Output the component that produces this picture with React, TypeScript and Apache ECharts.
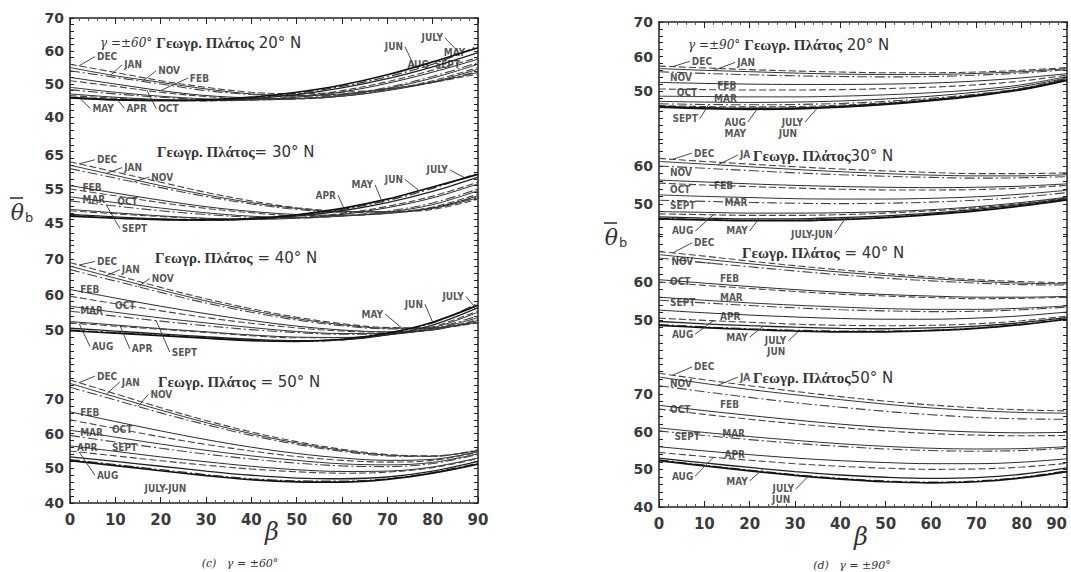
import React, { useEffect, useRef } from "react";
import * as echarts from "echarts";

// β values (x axis)
const BETA = [0, 10, 20, 30, 40, 50, 60, 70, 80, 90];
const X_TICK_LABELS = [0, 10, 20, 30, 40, 50, 60, 70, 80, 90];
// month order used in every table below
const MONTHS = ["DEC", "JAN", "NOV", "FEB", "OCT", "MAR", "SEPT", "APR", "AUG", "MAY", "JULY", "JUN"];

// ---------- γ = ±60° ----------
const G60_N20 = [
  [56, 53.5, 51, 49, 47.5, 47, 47.5, 48.5, 50.5, 53],
  [55, 52.5, 50.5, 48.5, 47, 46.5, 47, 48.5, 50.5, 53.5],
  [54, 52, 50, 48, 46.8, 46.3, 46.8, 48.3, 50.5, 53.8],
  [52, 50, 48, 46.5, 45.8, 45.6, 46.3, 48, 50.6, 54.5],
  [51, 49.3, 47.5, 46.2, 45.5, 45.5, 46.3, 48.2, 51, 55],
  [49, 47.5, 46.3, 45.5, 45.2, 45.5, 46.6, 48.7, 51.8, 56],
  [48.3, 47, 46, 45.3, 45.2, 45.6, 46.8, 49, 52.3, 56.5],
  [47, 46, 45.3, 45, 45.2, 46, 47.6, 50.2, 53.6, 57.5],
  [46.5, 45.7, 45.1, 44.9, 45.2, 46.2, 48, 50.7, 54.2, 58],
  [46, 45.3, 45, 45, 45.6, 46.8, 48.8, 51.6, 55.2, 59.5],
  [45.8, 45.2, 45, 45.1, 45.8, 47.2, 49.3, 52.2, 56, 61.5],
  [45.8, 45.2, 45, 45.2, 46, 47.5, 49.7, 52.8, 56.7, 61],
];
const G60_N30 = [
  [63, 60, 57, 54, 51.5, 49.5, 48.5, 48.3, 49, 52],
  [62, 59, 56, 53.3, 51, 49.3, 48.3, 48.3, 49.3, 52.4],
  [61, 58.2, 55.4, 52.8, 50.6, 49, 48.2, 48.3, 49.5, 52.7],
  [56, 53.8, 51.7, 49.8, 48.4, 47.5, 47.3, 47.8, 49.4, 53],
  [55, 53, 51, 49.3, 48, 47.2, 47.2, 47.9, 49.7, 53.5],
  [52.7, 51, 49.4, 48, 47, 46.6, 47, 48.2, 50.4, 54.5],
  [51.5, 50, 48.6, 47.5, 46.7, 46.5, 47.1, 48.5, 50.9, 55],
  [49, 48, 47.1, 46.4, 46.1, 46.4, 47.5, 49.5, 52.4, 56.5],
  [48.6, 47.7, 46.9, 46.3, 46.1, 46.6, 47.8, 49.9, 52.9, 57],
  [47.5, 46.8, 46.2, 45.9, 46.1, 47, 48.6, 51, 54.3, 58.5],
  [47.2, 46.5, 46, 45.8, 46.2, 47.2, 49, 51.6, 55.2, 59.7],
  [47, 46.4, 46, 45.9, 46.3, 47.4, 49.3, 52, 55.6, 59.3],
];
const G60_N40 = [
  [69, 65.5, 62, 58.8, 56, 53.6, 51.8, 50.7, 50.6, 52],
  [68, 64.6, 61.3, 58.2, 55.5, 53.2, 51.5, 50.5, 50.6, 52.2],
  [67, 63.8, 60.6, 57.6, 55, 52.8, 51.2, 50.3, 50.5, 52.4],
  [61.4, 59, 56.7, 54.6, 52.7, 51.1, 50, 49.5, 50, 52.7],
  [59.5, 57.4, 55.4, 53.5, 51.9, 50.6, 49.7, 49.4, 50, 53],
  [56.7, 55, 53.4, 52, 50.7, 49.6, 49, 49, 50.2, 53.5],
  [55.3, 53.9, 52.5, 51.2, 50.1, 49.3, 48.8, 49, 50.4, 54],
  [52.4, 51.4, 50.4, 49.5, 48.6, 48, 47.9, 48.6, 50.6, 55],
  [52, 51.1, 50.2, 49.3, 48.4, 47.8, 47.8, 48.7, 50.9, 55.4],
  [50.5, 49.7, 48.9, 48.1, 47.4, 47, 47.2, 48.6, 51.4, 56.3],
  [50, 49.3, 48.6, 47.8, 47.1, 46.8, 47.2, 48.9, 52, 57.5],
  [49.8, 49.1, 48.4, 47.7, 47, 46.8, 47.4, 49.1, 52.2, 57],
];
const G60_N50 = [
  [75.5, 71.5, 67.5, 63.8, 60.5, 57.7, 55.5, 54, 53.6, 55],
  [74.5, 70.6, 66.8, 63.2, 60, 57.3, 55.2, 53.8, 53.5, 55.2],
  [73.4, 69.7, 66, 62.6, 59.5, 56.9, 54.9, 53.6, 53.4, 55.4],
  [66.3, 63.5, 60.8, 58.3, 56.1, 54.3, 53, 52.3, 52.6, 54.8],
  [64, 61.5, 59.1, 56.9, 55, 53.4, 52.3, 51.8, 52.3, 54.6],
  [61, 59, 57, 55.2, 53.6, 52.3, 51.3, 51, 51.7, 54.2],
  [59.5, 57.6, 55.8, 54.1, 52.7, 51.5, 50.7, 50.5, 51.4, 54],
  [56.5, 54.9, 53.3, 51.9, 50.6, 49.6, 49.1, 49.2, 50.4, 53],
  [55, 53.6, 52.2, 50.9, 49.8, 49, 48.6, 48.9, 50.2, 52.8],
  [53.3, 52, 50.6, 49.2, 48, 47.2, 47, 47.5, 49.2, 52],
  [52.5, 51.1, 49.6, 48.2, 47, 46.4, 46.3, 47, 48.8, 51.5],
  [52.2, 50.8, 49.3, 47.9, 46.7, 46.1, 46, 46.8, 48.6, 51.2],
];

// ---------- γ = ±90° ----------
const G90_N20 = [
  [57.2, 56.7, 56.2, 55.8, 55.5, 55.3, 55.3, 55.5, 56, 56.8],
  [56.5, 56, 55.6, 55.2, 54.9, 54.8, 54.8, 55.1, 55.6, 56.5],
  [55.6, 55.1, 54.7, 54.4, 54.2, 54.1, 54.2, 54.6, 55.2, 56.2],
  [52.5, 52.2, 52, 51.9, 51.9, 52, 52.3, 52.9, 53.8, 55],
  [50.6, 50.4, 50.3, 50.3, 50.4, 50.7, 51.1, 51.8, 52.9, 54.6],
  [48.5, 48.4, 48.3, 48.3, 48.5, 48.9, 49.5, 50.4, 51.8, 54.2],
  [46.3, 46.1, 46, 46.1, 46.4, 47, 47.9, 49.1, 50.8, 53.6],
  [47, 46.8, 46.7, 46.8, 47.1, 47.7, 48.5, 49.7, 51.3, 53.8],
  [45.8, 45.5, 45.4, 45.5, 45.9, 46.6, 47.6, 48.9, 50.7, 53.4],
  [45.6, 45.2, 45, 45.1, 45.6, 46.3, 47.4, 48.8, 50.6, 53.3],
  [45.4, 45, 44.8, 44.9, 45.4, 46.2, 47.3, 48.7, 50.5, 53.2],
  [45.3, 44.9, 44.7, 44.8, 45.3, 46.1, 47.2, 48.6, 50.4, 53.1],
];
const G90_N30 = [
  [62, 61.2, 60.5, 59.8, 59.2, 58.7, 58.3, 58, 58, 58.2],
  [61.2, 60.5, 59.8, 59.1, 58.5, 58, 57.6, 57.4, 57.4, 57.7],
  [60, 59.4, 58.8, 58.2, 57.7, 57.3, 57, 56.8, 56.9, 57.2],
  [56.3, 55.8, 55.3, 54.9, 54.6, 54.4, 54.3, 54.4, 54.7, 55.3],
  [55.5, 55, 54.6, 54.2, 53.9, 53.7, 53.7, 53.8, 54.2, 54.9],
  [52.4, 52, 51.7, 51.4, 51.3, 51.3, 51.5, 51.9, 52.6, 53.6],
  [51, 50.7, 50.4, 50.2, 50.1, 50.2, 50.5, 51, 51.8, 53],
  [48, 47.8, 47.6, 47.6, 47.7, 48, 48.5, 49.3, 50.4, 51.8],
  [47.4, 47.2, 47, 47, 47.2, 47.6, 48.2, 49, 50.2, 51.6],
  [46.6, 46.3, 46.1, 46.1, 46.4, 46.9, 47.6, 48.6, 49.9, 51.4],
  [46.2, 45.9, 45.7, 45.7, 46, 46.5, 47.3, 48.3, 49.6, 51.2],
  [46.1, 45.8, 45.6, 45.6, 45.9, 46.4, 47.2, 48.2, 49.5, 51.1],
];
const G90_N40 = [
  [68, 66.8, 65.5, 64.3, 63.2, 62.2, 61.3, 60.6, 60.1, 59.8],
  [67.2, 66, 64.8, 63.7, 62.6, 61.7, 60.9, 60.2, 59.7, 59.5],
  [66.3, 65.1, 64, 62.9, 61.9, 61, 60.3, 59.7, 59.3, 59.2],
  [60.6, 59.7, 58.8, 58, 57.3, 56.7, 56.3, 56, 56, 56.2],
  [60, 59.1, 58.3, 57.5, 56.8, 56.3, 55.9, 55.6, 55.7, 56],
  [56, 55.2, 54.5, 53.9, 53.4, 53, 52.8, 52.8, 53.1, 53.7],
  [55.2, 54.5, 53.8, 53.2, 52.7, 52.4, 52.2, 52.3, 52.7, 53.4],
  [52.6, 51.9, 51.3, 50.8, 50.4, 50.2, 50.2, 50.5, 51.1, 52.1],
  [50.5, 49.9, 49.4, 48.9, 48.6, 48.5, 48.6, 49, 49.8, 51],
  [49.6, 49, 48.5, 48.1, 47.8, 47.7, 47.9, 48.4, 49.3, 50.6],
  [48.8, 48.2, 47.7, 47.3, 47.1, 47.1, 47.3, 47.9, 48.9, 50.3],
  [48.6, 48, 47.5, 47.1, 46.9, 46.9, 47.2, 47.8, 48.8, 50.2],
];
const G90_N50 = [
  [75.5, 73.8, 72.2, 70.7, 69.3, 68.1, 67.1, 66.3, 65.8, 65.5],
  [74.5, 72.8, 71.2, 69.8, 68.5, 67.3, 66.3, 65.6, 65.1, 64.9],
  [72.2, 70.6, 69.1, 67.7, 66.5, 65.4, 64.5, 63.8, 63.4, 63.3],
  [67, 65.6, 64.3, 63.1, 62, 61.1, 60.4, 59.9, 59.7, 59.8],
  [66, 64.6, 63.3, 62.1, 61.1, 60.2, 59.5, 59.1, 58.9, 59],
  [61, 59.8, 58.7, 57.7, 56.8, 56.1, 55.6, 55.4, 55.5, 56],
  [60.2, 59, 57.9, 56.9, 56.1, 55.4, 55, 54.8, 55, 55.6],
  [56, 54.9, 53.9, 53, 52.3, 51.8, 51.5, 51.5, 51.9, 52.8],
  [54.5, 53.4, 52.4, 51.5, 50.8, 50.3, 50, 50.1, 50.6, 51.6],
  [53, 51.7, 50.5, 49.4, 48.5, 47.9, 47.6, 47.8, 48.7, 50.4],
  [52.5, 51.1, 49.8, 48.6, 47.6, 46.9, 46.6, 46.9, 47.9, 49.6],
  [52.3, 50.9, 49.6, 48.4, 47.4, 46.7, 46.4, 46.7, 47.7, 49.4],
];

// month labels: [text, β, θ, curve month for leader | null, leader β | null]
type Note = [string, number, number, string | null, number | null];
const G60_N20_NOTES: Note[] = [
  ["DEC", 5.5, 58.3, "DEC", 2], ["JAN", 11.5, 55.8, "JAN", 9], ["NOV", 19, 54, "NOV", 16],
  ["FEB", 26, 51.8, "FEB", 20], ["MAY", 4.5, 42.6, "MAY", 2], ["APR", 12, 42.6, "APR", 10],
  ["OCT", 19, 42.6, "OCT", 17], ["JUN", 73.9, 61.3, "JUN", 76], ["JULY", 82.7, 64, "JULY", 86],
  ["MAY", 82, 59.6, null, null], ["AUG", 74, 56, null, null], ["SEPT", 80, 56, null, null],
];
const G60_N30_NOTES: Note[] = [
  ["DEC", 5.5, 63.6, "DEC", 2], ["JAN", 11.5, 61.3, "JAN", 8], ["NOV", 17.5, 58.5, "NOV", 14],
  ["FEB", 2.3, 55.3, null, null], ["OCT", 10, 51.3, null, null], ["MAR", 2.3, 52, null, null],
  ["SEPT", 11, 43.4, "SEPT", 8], ["APR", 59.1, 53.2, "APR", 61], ["MAY", 67.3, 56.2, "MAY", 69],
  ["JUN", 73.9, 57.8, "JUN", 77], ["JULY", 83.8, 60.6, "JULY", 87],
];
const G60_N40_NOTES: Note[] = [
  ["DEC", 5.5, 69.3, "DEC", 2], ["JAN", 11, 67, "JAN", 8], ["NOV", 17.6, 64.5, "NOV", 15],
  ["FEB", 1.8, 61.5, null, null], ["OCT", 9.5, 57, null, null], ["MAR", 1.8, 55.6, null, null],
  ["AUG", 4.4, 45.4, "AUG", 2], ["APR", 13.2, 44.7, "APR", 11], ["SEPT", 22, 43.8, "SEPT", 19],
  ["MAY", 69.5, 54.5, "MAY", 74], ["JUN", 78.3, 57.3, "JUN", 80], ["JULY", 87.3, 59.5, "JULY", 89],
];
const G60_N50_NOTES: Note[] = [
  ["DEC", 5.5, 76.6, "DEC", 2], ["JAN", 11, 74.9, "JAN", 8], ["NOV", 17.3, 71.4, "NOV", 15],
  ["FEB", 1.8, 66.2, null, null], ["OCT", 8.8, 61.2, null, null], ["MAR", 1.8, 60.4, null, null],
  ["SEPT", 8.8, 56, null, null], ["APR", 1.1, 56, null, null], ["AUG", 5.5, 48, "AUG", 2],
  ["JULY-JUN", 16, 44.3, null, null],
];
const G90_N20_NOTES: Note[] = [
  ["DEC", 6.8, 58.6, "DEC", 3], ["JAN", 16.8, 58.3, "JAN", 12], ["NOV", 2, 54, null, null],
  ["FEB", 12.4, 51.5, null, null], ["OCT", 3.5, 49.5, null, null], ["MAR", 11.7, 47.7, null, null],
  ["SEPT", 9, 42, "SEPT", 11], ["AUG", 19.6, 41, "AUG", 22], ["MAY", 14, 37.8, null, null],
  ["JULY", 32.2, 41, "JULY", 35], ["JUN", 26, 37.8, null, null],
];
const G90_N30_NOTES: Note[] = [
  ["DEC", 7.3, 63.4, "DEC", 3], ["JA", 17.4, 62.9, "JAN", 13], ["NOV", 2, 58.2, null, null],
  ["OCT", 2, 53.7, null, null], ["FEB", 11.7, 54.9, null, null], ["SEPT", 2, 49.5, null, null],
  ["MAR", 14, 50.5, null, null], ["AUG", 8, 42.9, "AUG", 12], ["MAY", 20, 42.9, "MAY", 22],
  ["JULY-JUN", 38.8, 42.1, "JULY", 41],
];
const G90_N40_NOTES: Note[] = [
  ["DEC", 7.3, 70.3, "DEC", 3], ["NOV", 8, 65.3, "NOV", 12], ["OCT", 2, 60, null, null],
  ["FEB", 13, 61, null, null], ["SEPT", 2, 54.7, null, null], ["MAR", 13, 55.8, null, null],
  ["APR", 13, 51, null, null], ["AUG", 8, 46.3, "AUG", 12], ["MAY", 20, 45.5, "MAY", 23],
  ["JULY", 28.5, 44.5, "JULY", 31], ["JUN", 23.4, 41.6, null, null],
];
const G90_N50_NOTES: Note[] = [
  ["DEC", 7.3, 77.2, "DEC", 3], ["JA", 17.4, 74.5, "JAN", 13], ["NOV", 2, 72.9, null, null],
  ["OCT", 2, 65.8, null, null], ["FEB", 13, 67.1, null, null], ["SEPT", 3, 58.6, null, null],
  ["MAR", 13.5, 59.4, null, null], ["APR", 14, 54, null, null], ["AUG", 8, 48.2, "AUG", 12],
  ["MAY", 20, 46.9, "MAY", 23], ["JULY", 30.2, 44.8, "JULY", 33], ["JUN", 24.5, 42.1, null, null],
];

// y tick labels of each sub-panel
const G60_YLABELS = [[70, 60, 50, 40], [65, 55, 45], [70, 60, 50], [70, 60, 50, 40]];
const G90_YLABELS = [[70, 60, 50], [60, 50], [60, 50], [70, 60, 50, 40]];

// layout (pixels) and y-range of every sub-panel
const PANELS = [
  {
    x0: 70, x1: 478, alignLast: false,
    subs: [
      { top: 18, bottom: 135, min: 34.55, max: 70, labels: G60_YLABELS[0], data: G60_N20, notes: G60_N20_NOTES },
      { top: 135, bottom: 240, min: 40, max: 70.88, labels: G60_YLABELS[1], data: G60_N30, notes: G60_N30_NOTES },
      { top: 240, bottom: 362, min: 40.99, max: 75.35, labels: G60_YLABELS[2], data: G60_N40, notes: G60_N40_NOTES },
      { top: 362, bottom: 503, min: 40, max: 80.67, labels: G60_YLABELS[3], data: G60_N50, notes: G60_N50_NOTES },
    ],
  },
  {
    x0: 659, x1: 1067, alignLast: true,
    subs: [
      { top: 22, bottom: 140, min: 35.8, max: 70, labels: G90_YLABELS[0], data: G90_N20, notes: G90_N20_NOTES },
      { top: 140, bottom: 236, min: 41.58, max: 66.84, labels: G90_YLABELS[1], data: G90_N30, notes: G90_N30_NOTES },
      { top: 236, bottom: 358, min: 40, max: 72.1, labels: G90_YLABELS[2], data: G90_N40, notes: G90_N40_NOTES },
      { top: 358, bottom: 507, min: 40, max: 79.56, labels: G90_YLABELS[3], data: G90_N50, notes: G90_N50_NOTES },
    ],
  },
];

const MONTH_STYLE: any[] = [
  { color: "#444", width: 1.1, type: [7, 3] },
  { color: "#333", width: 1, type: "solid" },
  { color: "#444", width: 1.1, type: [10, 3, 2, 3] },
  { color: "#2a2a2a", width: 1, type: "solid" },
  { color: "#444", width: 1.1, type: [7, 3] },
  { color: "#333", width: 1, type: "solid" },
  { color: "#444", width: 1.1, type: [10, 3, 2, 3] },
  { color: "#2a2a2a", width: 1, type: "solid" },
  { color: "#444", width: 1.1, type: [7, 3] },
  { color: "#222", width: 1.3, type: "solid" },
  { color: "#333", width: 1.2, type: [10, 3, 2, 3] },
  { color: "#111", width: 1.7, type: "solid" },
];

function valAt(arr: number[], b: number) {
  const i = Math.min(BETA.length - 2, Math.floor(b / 10));
  const t = (b - BETA[i]) / (BETA[i + 1] - BETA[i]);
  return arr[i] * (1 - t) + arr[i + 1] * t;
}

const AX = "#222";
const TICK_FONT = { fontFamily: "DejaVu Sans", fontSize: 14, fontWeight: "bold" as const, color: "#3a3a3a" };

function buildOption() {
  const grid: any[] = [];
  const xAxis: any[] = [];
  const yAxis: any[] = [];
  const series: any[] = [];

  PANELS.forEach((p) => {
    p.subs.forEach((s, si) => {
      const gi = grid.length;
      grid.push({
        left: p.x0, width: p.x1 - p.x0, top: s.top, height: s.bottom - s.top,
        containLabel: false, outerBoundsMode: "none",
      });
      const isBottom = si === p.subs.length - 1;
      const xi = xAxis.length;
      xAxis.push({
        gridIndex: gi, type: "value", min: 0, max: 90, interval: 10, position: "bottom",
        show: isBottom,
        axisLine: { show: true, onZero: false, lineStyle: { color: AX, width: 1.5 } },
        axisTick: { show: true, inside: true, length: 6, lineStyle: { color: AX } },
        minorTick: { show: true, splitNumber: 5, length: 3, lineStyle: { color: "#555" } },
        axisLabel: {
          ...TICK_FONT, fontSize: 15, margin: 9, customValues: X_TICK_LABELS,
          alignMaxLabel: p.alignLast ? "right" : "center",
        },
        splitLine: { show: false },
      });
      if (si === 0) {
        xAxis.push({
          gridIndex: gi, type: "value", min: 0, max: 90, interval: 10, position: "top",
          axisLine: { show: true, onZero: false, lineStyle: { color: AX, width: 1.5 } },
          axisTick: { show: true, inside: true, length: 6, lineStyle: { color: AX } },
          minorTick: { show: true, splitNumber: 5, length: 3, lineStyle: { color: "#555" } },
          axisLabel: { show: false },
          splitLine: { show: false },
        });
      }
      const ticks: number[] = [];
      for (let v = Math.ceil(s.min / 2) * 2; v <= s.max; v += 2) ticks.push(v);
      const yi = yAxis.length;
      yAxis.push({
        gridIndex: gi, type: "value", min: s.min, max: s.max, position: "left",
        axisLine: { show: true, onZero: false, lineStyle: { color: AX, width: 1.5 } },
        axisTick: { show: true, inside: true, length: 4, customValues: ticks, lineStyle: { color: AX } },
        axisLabel: { ...TICK_FONT, margin: 6, customValues: s.labels },
        splitLine: { show: false },
      });
      yAxis.push({
        gridIndex: gi, type: "value", min: s.min, max: s.max, position: "right",
        axisLine: { show: true, onZero: false, lineStyle: { color: AX, width: 1.5 } },
        axisTick: { show: true, inside: true, length: 4, customValues: ticks, lineStyle: { color: AX } },
        axisLabel: { show: false },
        splitLine: { show: false },
      });

      s.data.forEach((vals, mi) => {
        series.push({
          type: "line", xAxisIndex: xi, yAxisIndex: yi, smooth: 0.35, symbol: "none",
          name: MONTHS[mi], silent: true,
          lineStyle: MONTH_STYLE[mi],
          data: BETA.map((b, i) => [b, vals[i]]),
        });
      });

      const leaders = s.notes
        .filter((n) => n[3] !== null && n[4] !== null)
        .map((n) => {
          const arr = s.data[MONTHS.indexOf(n[3] as string)];
          return [{ coord: [n[1], n[2]] }, { coord: [n[4], valAt(arr, n[4] as number)] }];
        });
      series.push({
        type: "scatter", xAxisIndex: xi, yAxisIndex: yi, symbolSize: 0, silent: true,
        data: s.notes.map((n) => ({
          name: n[0],
          value: [n[1], n[2]],
          label: { position: n[4] !== null && (n[4] as number) > n[1] ? "left" : "right" },
        })),
        label: {
          show: true, formatter: "{b}", distance: 2,
          fontFamily: "DejaVu Sans Condensed, DejaVu Sans", fontSize: 10, fontWeight: "bold", color: "#2a2a2a",
        },
        markLine: {
          silent: true, symbol: ["none", "none"], label: { show: false },
          lineStyle: { color: "#333", width: 0.9, type: "solid" },
          data: leaders,
        },
      });
    });
  });

  const rich = {
    g: { fontFamily: "DejaVu Serif", fontStyle: "italic", fontSize: 12, fill: "#333", padding: [0, 4, 0, 0] },
    s: { fontFamily: "Liberation Serif", fontWeight: "bold", fontSize: 15, fill: "#333" },
    n: { fontFamily: "DejaVu Sans", fontSize: 15, fill: "#333" },
  };
  const title = (x: number, y: number, text: string) => ({
    type: "text", x, y, silent: true,
    style: { text, rich, verticalAlign: "middle", align: "left", fill: "#333" },
  });
  const theta = (x: number, y: number) => ({
    type: "group", silent: true,
    children: [
      {
        type: "text", x, y,
        style: {
          text: "{t|\u03B8}{b|b}", align: "center", verticalAlign: "middle",
          rich: {
            t: { fontFamily: "DejaVu Serif", fontStyle: "italic", fontSize: 22, fill: "#333" },
            b: { fontFamily: "DejaVu Sans", fontSize: 13, fill: "#333", padding: [10, 0, 0, 1] },
          },
        },
      },
      { type: "line", shape: { x1: x - 12, y1: y - 14, x2: x + 1, y2: y - 14 }, style: { stroke: "#333", lineWidth: 1.6 } },
    ],
  });
  const plain = (x: number, y: number, text: string, size: number, font: string, italic = false) => ({
    type: "text", x, y, silent: true,
    style: {
      text, align: "center", verticalAlign: "middle", fontSize: size, fontFamily: font,
      fontStyle: italic ? "italic" : "normal", fill: "#333",
    },
  });

  const graphic = [
    title(100, 43, "{g|\u03B3 =\u00B160\u00B0}{s|\u0393\u03B5\u03C9\u03B3\u03C1. \u03A0\u03BB\u03AC\u03C4\u03BF\u03C2}{n| 20\u00B0 N}"),
    title(157, 152, "{s|\u0393\u03B5\u03C9\u03B3\u03C1. \u03A0\u03BB\u03AC\u03C4\u03BF\u03C2}{n|= 30\u00B0 N}"),
    title(155, 258, "{s|\u0393\u03B5\u03C9\u03B3\u03C1. \u03A0\u03BB\u03AC\u03C4\u03BF\u03C2}{n| = 40\u00B0 N}"),
    title(158, 382, "{s|\u0393\u03B5\u03C9\u03B3\u03C1. \u03A0\u03BB\u03AC\u03C4\u03BF\u03C2}{n| = 50\u00B0 N}"),
    title(688, 45, "{g|\u03B3 =\u00B190\u00B0}{s|\u0393\u03B5\u03C9\u03B3\u03C1. \u03A0\u03BB\u03AC\u03C4\u03BF\u03C2}{n| 20\u00B0 N}"),
    title(753, 156, "{s|\u0393\u03B5\u03C9\u03B3\u03C1. \u03A0\u03BB\u03AC\u03C4\u03BF\u03C2}{n|30\u00B0 N}"),
    title(742, 253, "{s|\u0393\u03B5\u03C9\u03B3\u03C1. \u03A0\u03BB\u03AC\u03C4\u03BF\u03C2}{n| = 40\u00B0 N}"),
    title(753, 378, "{s|\u0393\u03B5\u03C9\u03B3\u03C1. \u03A0\u03BB\u03AC\u03C4\u03BF\u03C2}{n|50\u00B0 N}"),
    theta(22, 212),
    theta(616, 237),
    plain(272, 532, "\u03B2", 24, "DejaVu Serif", true),
    plain(861, 537, "\u03B2", 24, "DejaVu Serif", true),
    plain(240, 563, "(c)   \u03B3 = \u00B160\u00B0", 11, "DejaVu Serif", true),
    plain(852, 565, "(d)   \u03B3 = \u00B190\u00B0", 11, "DejaVu Serif", true),
  ];

  return { animation: false, backgroundColor: "#fff", grid, xAxis, yAxis, series, graphic };
}

export default function App() {
  const ref = useRef<HTMLDivElement>(null);
  useEffect(() => {
    if (!ref.current) return;
    const chart = echarts.init(ref.current, null, { renderer: "svg" });
    chart.setOption(buildOption() as any);
    return () => chart.dispose();
  }, []);
  return (
    <div
      ref={ref}
      style={{ position: "absolute", left: 0, top: 0, width: 1071, height: 572, background: "#fff" }}
    />
  );
}
